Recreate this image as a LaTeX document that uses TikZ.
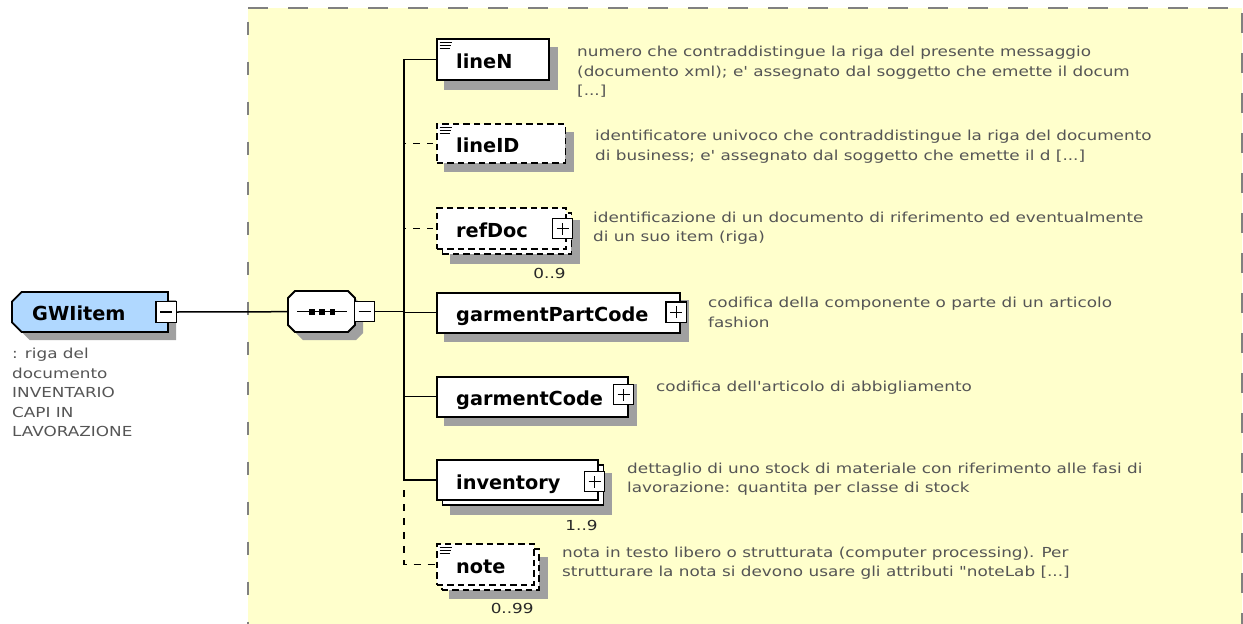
\documentclass[tikz,border=0pt]{standalone}
\usepackage{fontspec}
\setmainfont{DejaVu Sans}[Ligatures=TeXOff]
\newfontfamily\descfont{DejaVu Sans}[FakeStretch=1.22, Ligatures=TeXOff]
\pgfdeclarelayer{bg}
\pgfdeclarelayer{shadow}
\pgfsetlayers{bg,shadow,main}
\definecolor{bgyellow}{RGB}{255,255,204}
\definecolor{bordergray}{RGB}{128,128,128}
\definecolor{shadowgray}{RGB}{160,160,160}
\definecolor{gwblue}{RGB}{176,216,255}
\definecolor{desccol}{RGB}{85,85,85}
\definecolor{multcol}{RGB}{40,40,40}
\tikzset{
 elembox/.style={draw=black, fill=white, line width=1.8pt, inner sep=0pt, anchor=north west},
 optbox/.style={elembox, dash pattern=on 6.5pt off 4pt},
 lbl/.style={font=\fontsize{19.3}{22}\selectfont\bfseries, inner sep=0pt, anchor=base west},
 desc/.style={font=\descfont\fontsize{13.8}{19.5}\selectfont, text=desccol, inner sep=0pt, anchor=north west, align=left},
 mult/.style={font=\descfont\fontsize{13.8}{16}\selectfont, text=multcol, inner sep=0pt, anchor=east},
 conn/.style={line width=1.5pt, draw=black},
 optconn/.style={conn, dash pattern=on 6.5pt off 7pt, dash phase=10.5pt},
 pmbox/.style={draw=black, fill=white, line width=1.3pt, minimum size=20.5pt, inner sep=0pt},
 plusbox/.style={pmbox, path picture={\draw[line width=1.3pt] ([xshift=-6pt]path picture bounding box.center) -- ([xshift=6pt]path picture bounding box.center) ([yshift=-6pt]path picture bounding box.center) -- ([yshift=6pt]path picture bounding box.center);}},
 minusbox/.style={pmbox, path picture={\draw[line width=1.3pt] ([xshift=-6pt]path picture bounding box.center) -- ([xshift=6pt]path picture bounding box.center);}},
 border/.style={draw=bordergray, line width=2pt},
}
\newcommand\boxshadow[1]{\begin{pgfonlayer}{shadow}\fill[shadowgray] ([shift={(8,8.5)}]#1.north west) rectangle ([shift={(8,8.5)}]#1.south east);\end{pgfonlayer}}
\newcommand\xsicon[1]{\draw[line width=1pt] ([shift={(3.5,4.5)}]#1.north west) -- ++(12,0) ([shift={(3.5,7.2)}]#1.north west) -- ++(11,0) ([shift={(3.5,9.9)}]#1.north west) -- ++(10,0);}
\begin{document}
\begin{tikzpicture}[x=1pt,y=-1pt]
\useasboundingbox (0,0) rectangle (1243,624);
% background area
\begin{pgfonlayer}{bg}
\fill[bgyellow] (248,8) rectangle (1242,624);
\draw[border, dash pattern=on 20pt off 20pt] (248,8) -- (1242,8);
\draw[border, dash pattern=on 13pt off 27pt] (248,21.7) -- (248,624);
\draw[border, dash pattern=on 20pt off 20pt] (1242,13.3) -- (1242,624);
\end{pgfonlayer}
% root element
\node[inner sep=0pt, minimum width=156pt, minimum height=40pt, anchor=north west] (gw) at (12,292) {};
\begin{pgfonlayer}{shadow}
\fill[shadowgray, shift={(8,8)}] (21.7,292) -- (168,292) -- (168,332) -- (21.7,332) -- (12,322.3) -- (12,301.7) -- cycle;
\end{pgfonlayer}
\filldraw[fill=gwblue, draw=black, line width=1.8pt] (21.7,292) -- (168,292) -- (168,332) -- (21.7,332) -- (12,322.3) -- (12,301.7) -- cycle;
\node[lbl] (gwl) at ([shift={(20,8)}]gw.west) {GWIitem};
\node[minusbox] (gwminus) at (166.2,312) {};
\node[desc] (gwd) at (12,348.3) {: riga del\\documento\\INVENTARIO\\CAPI IN\\LAVORAZIONE};
% sequence compositor
\node[inner sep=0pt, minimum width=67pt, minimum height=41pt, anchor=north west] (seq) at (288,291) {};
\begin{pgfonlayer}{shadow}
\fill[shadowgray, shift={(8,8)}] (295,291) -- (348,291) -- (355,298) -- (355,325) -- (348,332) -- (295,332) -- (288,325) -- (288,298) -- cycle;
\end{pgfonlayer}
\filldraw[fill=white, draw=black, line width=1.8pt] (295,291) -- (348,291) -- (355,298) -- (355,325) -- (348,332) -- (295,332) -- (288,325) -- (288,298) -- cycle;
\draw[line width=1.3pt] (297.3,311.7) -- (347.3,311.7);
\foreach \cx in {311.7,321.7,332.3} \fill (\cx-2.8,309) rectangle (\cx+2.8,314.5);
\node[minusbox] (seqminus) at (364.5,311.5) {};
\draw[conn] (gwminus.east) -- (seq.west);
% children
\coordinate (tx) at (404,0);
% lineN
\node[elembox, minimum width=112pt, minimum height=41pt] (lineN) at (436,38.3) {};
\boxshadow{lineN}\xsicon{lineN}
\node[lbl] (lineNl) at ([shift={(20,9)}]lineN.west) {lineN};
\node[desc] (lineNd) at (577,46) {numero che contraddistingue la riga del presente messaggio\\(documento xml); e' assegnato dal soggetto che emette il docum\\{[...]}};
% lineID
\node[optbox, minimum width=128.5pt, minimum height=38.5pt] (lineID) at (436,123.3) {};
\boxshadow{lineID}\xsicon{lineID}
\node[lbl] (lineIDl) at ([shift={(20,9)}]lineID.west) {lineID};
\node[desc] (lineIDd) at (595,130) {identificatore univoco che contraddistingue la riga del documento\\di business; e' assegnato dal soggetto che emette il d [...]};
% refDoc (stacked)
\node[optbox, minimum width=129pt, minimum height=41.6pt] (refDocB) at (441.5,211.7) {};
\boxshadow{refDocB}
\node[optbox, minimum width=129pt, minimum height=41.6pt] (refDoc) at (436,206.7) {};
\node[lbl] (refDocl) at ([shift={(20,9)}]refDoc.west) {refDoc};
\node[plusbox] (refDocp) at (562.5,228.5) {};
\node[mult] (refDocm) at ([shift={(-1,23)}]refDoc.south east) {0..9};
\node[desc] (refDocd) at (593,211.5) {identificazione di un documento di riferimento ed eventualmente\\di un suo item (riga)};
% garmentPartCode
\node[elembox, minimum width=243pt, minimum height=40pt] (gpc) at (436,291.7) {};
\boxshadow{gpc}
\node[lbl] (gpcl) at ([shift={(20,9)}]gpc.west) {garmentPartCode};
\node[plusbox] (gpcp) at (676.2,312.2) {};
\node[desc] (gpcd) at (708,297) {codifica della componente o parte di un articolo\\fashion};
% garmentCode
\node[elembox, minimum width=191pt, minimum height=40pt] (gc) at (436,375.7) {};
\boxshadow{gc}
\node[lbl] (gcl) at ([shift={(20,9)}]gc.west) {garmentCode};
\node[plusbox] (gcp) at (623.5,394.5) {};
\node[desc] (gcd) at (656,381) {codifica dell'articolo di abbigliamento};
% inventory (stacked)
\node[elembox, minimum width=161pt, minimum height=40pt] (invB) at (441.5,464.3) {};
\boxshadow{invB}
\node[elembox, minimum width=161pt, minimum height=40pt] (inv) at (436,459.3) {};
\node[lbl] (invl) at ([shift={(20,9)}]inv.west) {inventory};
\node[plusbox] (invp) at (594.5,481.5) {};
\node[mult] (invm) at ([shift={(-1,24)}]inv.south east) {1..9};
\node[desc] (invd) at (627,462.5) {dettaglio di uno stock di materiale con riferimento alle fasi di\\lavorazione: quantita per classe di stock};
% note (stacked)
\node[optbox, minimum width=97pt, minimum height=40.7pt] (noteB) at (441,548.3) {};
\boxshadow{noteB}
\node[optbox, minimum width=97pt, minimum height=40.7pt] (note) at (436,543.3) {};
\xsicon{note}
\node[lbl] (notel) at ([shift={(20,9)}]note.west) {note};
\node[mult] (notem) at ([shift={(-1,23)}]note.south east) {0..99};
\node[desc] (noted) at (562,546.5) {nota in testo libero o strutturata (computer processing). Per\\strutturare la nota si devono usare gli attributi "noteLab [...]};
% connectors
\draw[conn] (seqminus.east) -- (seqminus.east -| tx);
\draw[conn] (lineN.west) -- (lineN.west -| tx) -- (inv.west -| tx) -- (inv.west);
\draw[optconn] (lineID.west) -- (lineID.west -| tx);
\draw[optconn] (refDoc.west) -- (refDoc.west -| tx);
\draw[conn] (gpc.west) -- (gpc.west -| tx);
\draw[conn] (gc.west) -- (gc.west -| tx);
\draw[conn, dash pattern=on 7pt off 7pt] ([yshift=-10pt]inv.west -| tx) -- (note.west -| tx) -- (note.west);
\end{tikzpicture}
\end{document}
